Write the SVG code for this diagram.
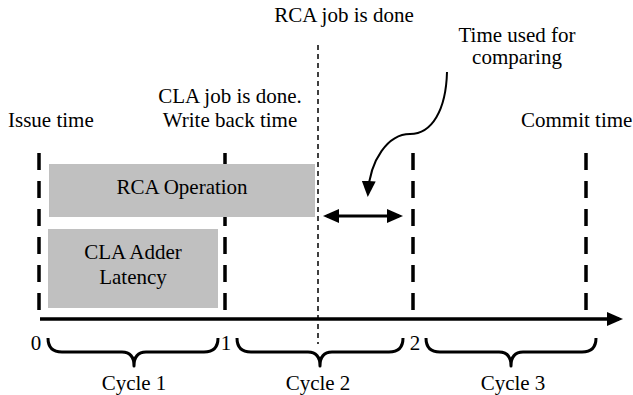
<svg xmlns="http://www.w3.org/2000/svg" width="633" height="395" viewBox="0 0 633 395">
<defs>
<style>
text{font-family:'Liberation Serif','Times New Roman',Times,serif;font-size:21px;fill:#000}
.c{text-anchor:middle}
.box{fill:#c0c0c0}
.tick{stroke:#000;stroke-width:3.5;stroke-dasharray:17 11;fill:none}
.brace{stroke:#000;stroke-width:3;fill:none;stroke-linejoin:round}
</style>
<marker id="arr" viewBox="0 0 16 14" refX="12" refY="7" markerWidth="16" markerHeight="14" markerUnits="userSpaceOnUse" orient="auto-start-reverse">
<path d="M0,0 L16,7 L0,14 z" fill="#000"/>
</marker>
</defs>
<rect width="633" height="395" fill="#fff"/>

<g id="ticks">
<line class="tick" x1="39" y1="153" x2="39" y2="310"/>
<line class="tick" x1="225" y1="153" x2="225" y2="310"/>
<line class="tick" x1="413" y1="153" x2="413" y2="310"/>
<line class="tick" x1="586" y1="153" x2="586" y2="310"/>
</g>

<g id="labels">
<text x="8" y="127">Issue time</text>
<text class="c" x="230" y="103">CLA job is done.</text>
<text class="c" x="230" y="127">Write back time</text>
<text class="c" x="344" y="22">RCA job is done</text>
<text class="c" x="517" y="42">Time used for</text>
<text class="c" x="517" y="64">comparing</text>
<text x="521" y="127">Commit time</text>
</g>

<g id="rca-operation">
<rect class="box" x="49" y="164" width="266" height="53"/>
<text class="c" x="182" y="194">RCA Operation</text>
</g>
<g id="cla-latency">
<rect class="box" x="48" y="229" width="170" height="79"/>
<text class="c" x="133" y="259">CLA Adder</text>
<text class="c" x="133" y="284">Latency</text>
</g>

<g id="connectors">
<line x1="318" y1="45" x2="318" y2="344" stroke="#000" stroke-width="1.5" stroke-dasharray="5 4"/>
<line x1="40" y1="319" x2="619" y2="319" stroke="#000" stroke-width="3.5" marker-end="url(#arr)"/>
<line x1="327" y1="216" x2="399" y2="216" stroke="#000" stroke-width="3" marker-start="url(#arr)" marker-end="url(#arr)"/>
<path d="M447,72 C446,110 432,134 410,134 C388,134 370,160 368,193" stroke="#000" stroke-width="2" fill="none" marker-end="url(#arr)"/>
</g>

<g id="axis-labels">
<text class="c" x="36" y="350">0</text>
<text class="c" x="226" y="350">1</text>
<text class="c" x="415" y="350">2</text>
</g>

<g id="cycle1">
<path class="brace" d="M48,338 Q48,352 62,352 L122,352 Q134,352 134,366 Q134,352 146,352 L204,352 Q218,352 218,338"/>
<text class="c" x="134" y="390">Cycle 1</text>
</g>
<g id="cycle2">
<path class="brace" d="M237,338 Q237,352 251,352 L308,352 Q320,352 320,366 Q320,352 332,352 L389,352 Q403,352 403,338"/>
<text class="c" x="318" y="390">Cycle 2</text>
</g>
<g id="cycle3">
<path class="brace" d="M426,338 Q426,352 440,352 L499,352 Q511,352 511,366 Q511,352 523,352 L582,352 Q596,352 596,338"/>
<text class="c" x="513" y="390">Cycle 3</text>
</g>
</svg>
